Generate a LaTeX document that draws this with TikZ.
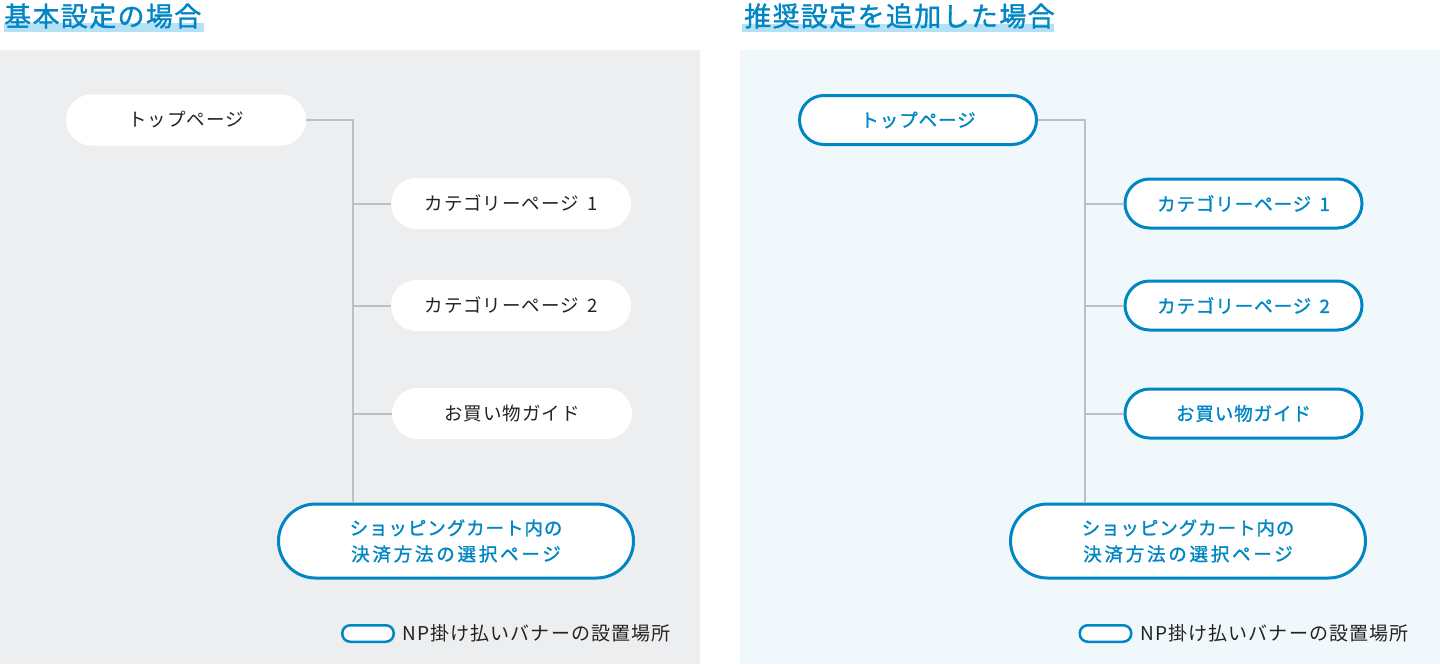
\documentclass[tikz,border=0pt]{standalone}
\usepackage{fontspec}
\setmainfont{Noto Sans CJK JP}
\newfontfamily\jp[LetterSpace=5]{Noto Sans CJK JP}
\newfontfamily\jpb[LetterSpace=5,FakeBold=1.2]{Noto Sans CJK JP}
\newfontfamily\jpbw[LetterSpace=15,FakeBold=1.2]{Noto Sans CJK JP}
\newfontfamily\jptitle[LetterSpace=5,FakeBold=1.3]{Noto Sans CJK JP}
\newfontfamily\jplg[LetterSpace=6]{Noto Sans CJK JP}
\definecolor{npblue}{HTML}{0086C4}
\definecolor{hilite}{HTML}{B5E1F6}
\definecolor{bgL}{HTML}{EDEEF0}
\definecolor{bgR}{HTML}{F1F8FC}
\definecolor{conn}{HTML}{BCC0C4}
\definecolor{ink}{HTML}{222222}
\begin{document}
\begin{tikzpicture}[x=1pt,y=-1pt,
  plain/.style={rectangle, fill=white, rounded corners=25.5pt, minimum width=240pt, minimum height=51pt, inner sep=0pt, text=ink, font=\jp\fontsize{18.5}{22}\selectfont},
  banner/.style={rectangle, fill=white, draw=npblue, line width=3pt, rounded corners=24.5pt, minimum width=237pt, minimum height=49pt, inner sep=0pt, text=npblue, font=\jpb\fontsize{18.5}{22}\selectfont},
  cartbox/.style={rectangle, fill=white, draw=npblue, line width=3pt, rounded corners=37pt, minimum width=355pt, minimum height=74pt, inner sep=0pt, align=center, text=npblue, font=\jpb\fontsize{18.5}{26}\selectfont},
  legbox/.style={rectangle, fill=white, draw=npblue, line width=2.5pt, rounded corners=8pt, minimum width=51.5pt, minimum height=16.5pt, inner sep=0pt},
  legtext/.style={anchor=west, inner sep=0pt, text=ink, font=\jplg\fontsize{19}{22}\selectfont},
  titletext/.style={anchor=west, inner sep=0pt, text=npblue, font=\jptitle\fontsize{27}{30}\selectfont},
  link/.style={draw=conn, line width=2pt}
]
\useasboundingbox (0,0) rectangle (1440,664);
\fill[white] (0,0) rectangle (1440,664);
% panels
\fill[bgL] (0,50) rectangle (700,664);
\fill[bgR] (740,50) rectangle (1440,664);
% titles
\fill[hilite] (4,23) rectangle (204,32);
\fill[hilite] (742,24) rectangle (1054,32);
\node[titletext] (tL) at (4,16) {基本設定の場合};
\node[titletext] (tR) at (744,16) {推奨設定を追加した場合};

% ---------- left ----------
\node[plain] (topL) at (186,120) {トップページ};
\node[plain] (c1L) at (511,203.5) {カテゴリーページ\hspace{0.45em}1};
\node[plain] (c2L) at (511,305.5) {カテゴリーページ\hspace{0.45em}2};
\node[plain] (gL) at (512,413.5) {お買い物ガイド};
\node[cartbox] (cartL) at (456,541) {ショッピングカート内の\\{\jpbw 決済方法の選択ページ}};
\coordinate (tbL) at (353,503);
\draw[link] (topL.east) -| (tbL);
\draw[link] (c1L.west) -- (c1L.west -| tbL);
\draw[link] (c2L.west) -- (c2L.west -| tbL);
\draw[link] (gL.west) -- (gL.west -| tbL);
\node[legbox] (lgL) at (368,633.5) {};
\node[legtext] (ltL) at (402,633.5) {NP掛け払いバナーの設置場所};

% ---------- right ----------
\node[banner] (topR) at (918,120) {トップページ};
\node[banner] (c1R) at (1243.5,203.5) {カテゴリーページ\hspace{0.45em}1};
\node[banner] (c2R) at (1243.5,305.5) {カテゴリーページ\hspace{0.45em}2};
\node[banner] (gR) at (1243.5,413.5) {お買い物ガイド};
\node[cartbox] (cartR) at (1188,541) {ショッピングカート内の\\{\jpbw 決済方法の選択ページ}};
\coordinate (tbR) at (1085,503);
\draw[link] (topR.east) -| (tbR);
\draw[link] (c1R.west) -- (c1R.west -| tbR);
\draw[link] (c2R.west) -- (c2R.west -| tbR);
\draw[link] (gR.west) -- (gR.west -| tbR);
\node[legbox] (lgR) at (1105.5,633.5) {};
\node[legtext] (ltR) at (1140,633.5) {NP掛け払いバナーの設置場所};
\end{tikzpicture}
\end{document}
